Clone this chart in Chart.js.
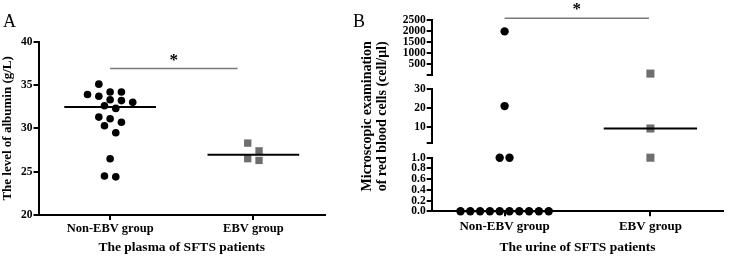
<!DOCTYPE html>
<html>
<head>
<meta charset="utf-8">
<script src="https://cdn.jsdelivr.net/npm/chart.js@4.4.1/dist/chart.umd.min.js"></script>
<style>
  body { margin: 0; background: #fff; width: 729px; height: 257px; position: relative; overflow: hidden; }
  .panel { position: absolute; top: 0; height: 257px; }
  .tag { position: absolute; top: 12px; font: 18px "Liberation Serif", "Times New Roman", serif; line-height: 18px; color: #000; }
</style>
</head>
<body>
<div class="panel" style="left:0;width:360px"><canvas id="chartA" width="360" height="257"></canvas></div>
<div class="panel" style="left:360px;width:369px"><canvas id="chartB" width="369" height="257"></canvas></div>
<div class="tag" style="left:3px">A</div>
<div class="tag" style="left:353px">B</div>
<script>
const groups = ['Non-EBV group', 'EBV group'];

// A - albumin in plasma (g/L)
const plasmaNonEbv = [35.1, 34.2, 34.2, 33.9, 33.7, 33.3, 33.2, 33.0, 32.6, 32.3, 31.3, 31.1, 30.7, 30.3, 29.5, 26.5, 24.5, 24.4];
const plasmaEbv = [28.3, 27.4, 26.5, 26.3];
const plasmaTicks = [20, 25, 30, 35, 40];

// B - red blood cells in urine (cell/μl), broken axis in 3 parts
const urineNonEbv = [1980, 21, 1, 1, 0, 0, 0, 0, 0, 0, 0, 0, 0, 0];
const urineEbv = [50, 9, 1];
const urineTicksHigh = [0, 500, 1000, 1500, 2000, 2500];
const urineTicksMid = [1, 10, 20, 30];
const urineTicksLow = [0, 0.2, 0.4, 0.6, 0.8, 1.0];

const serif = '"Liberation Serif", "Times New Roman", serif';
Chart.defaults.font.family = serif;
Chart.defaults.font.weight = 'bold';
Chart.defaults.color = '#000';

const dotColor = '#000';
const squareColor = '#6e6e6e';

function median(arr) {
  const s = arr.slice().sort((a, b) => a - b);
  const m = Math.floor(s.length / 2);
  return s.length % 2 ? s[m] : (s[m - 1] + s[m]) / 2;
}

function medianLine(groupIdx, value, axis) {
  const c = groupIdx + 0.5;
  return {
    type: 'line', yAxisID: axis, data: [{x: c - 0.32, y: value}, {x: c + 0.32, y: value}],
    borderColor: '#000', borderWidth: 2, pointRadius: 0, clip: false
  };
}

// spread points of one group sideways, row by row (scatter dot plot)
function spreadGroup(chart, dsIndexes, center, step, rowPx) {
  const xs = chart.scales.x;
  const unit = xs.getPixelForValue(1) - xs.getPixelForValue(0);
  const pts = [];
  dsIndexes.forEach(di => {
    const ds = chart.data.datasets[di];
    const ys = chart.scales[ds.yAxisID || 'y'];
    ds.data.forEach(p => pts.push({p: p, py: ys.getPixelForValue(p.y)}));
  });
  pts.sort((a, b) => a.py - b.py);
  let row = [];
  const flush = () => {
    row.forEach((q, i) => { q.p.x = center + (i - (row.length - 1) / 2) * step / unit; });
    row = [];
  };
  pts.forEach(q => {
    if (row.length && q.py - row[0].py >= rowPx) flush();
    row.push(q);
  });
  flush();
}

const sigBar = {
  id: 'sigBar',
  afterDatasetsDraw(chart, args, opts) {
    const ctx = chart.ctx;
    const xs = chart.scales.x;
    const x0 = xs.getPixelForValue(opts.from);
    const x1 = xs.getPixelForValue(opts.to);
    const y = chart.scales[opts.axis].getPixelForValue(opts.level);
    ctx.save();
    ctx.strokeStyle = '#7a7a7a';
    ctx.lineWidth = 1.5;
    ctx.beginPath();
    ctx.moveTo(x0, y);
    ctx.lineTo(x1, y);
    ctx.stroke();
    ctx.fillStyle = '#000';
    ctx.font = 'bold 17px ' + serif;
    ctx.textAlign = 'center';
    ctx.textBaseline = 'alphabetic';
    ctx.fillText('*', (x0 + x1) / 2, y - 3.8);
    ctx.restore();
  }
};

const axisLines = {
  grid: {display: true, drawOnChartArea: false, drawTicks: true, tickLength: 5, lineWidth: 2, color: '#000'},
  border: {display: true, color: '#000', width: 2}
};

function groupAxis(height, labelPad, labelSize, title, titleSize, titlePad) {
  return Object.assign({
    type: 'linear', min: 0, max: 2,
    afterBuildTicks: s => { s.ticks = [{value: 0.5}, {value: 1.5}]; },
    ticks: {callback: (v, i) => groups[i], padding: labelPad, font: {size: labelSize}, maxRotation: 0, autoSkip: false},
    title: {display: true, text: title, font: {size: titleSize}, padding: {top: 0, bottom: titlePad}},
    afterFit: s => { s.height = height; }
  }, axisLines);
}

// ---------- A ----------
const chartA = new Chart(document.getElementById('chartA'), {
  type: 'scatter',
  data: {
    datasets: [
      medianLine(0, median(plasmaNonEbv), 'y'),
      medianLine(1, median(plasmaEbv), 'y'),
      {data: plasmaNonEbv.map(v => ({x: 0.5, y: v})), pointStyle: 'circle', pointRadius: 3.8,
        backgroundColor: dotColor, borderWidth: 0, clip: false},
      {data: plasmaEbv.map(v => ({x: 1.5, y: v})), pointStyle: 'rect', pointRadius: 5.2,
        backgroundColor: squareColor, borderWidth: 0, clip: false}
    ]
  },
  options: {
    responsive: false,
    animation: false,
    layout: {padding: {top: 41.7, right: 35, left: 0, bottom: 0}},
    plugins: {
      legend: {display: false},
      tooltip: {enabled: false},
      sigBar: {from: 0.5, to: 1.39, level: 36.9, axis: 'y'}
    },
    scales: {
      x: groupAxis(42, 1.5, 12.5, 'The plasma of SFTS patients', 13.5, 1),
      y: Object.assign({
        min: 20, max: 40,
        afterBuildTicks: s => { s.ticks = plasmaTicks.map(v => ({value: v})); },
        ticks: {padding: 1, font: {size: 11.5}, autoSkip: false},
        title: {display: true, text: 'The level of albumin (g/L)', font: {size: 13}, padding: {top: 0, bottom: 0}},
        afterFit: s => { s.width = 38.5; }
      }, axisLines)
    }
  },
  plugins: [sigBar]
});
spreadGroup(chartA, [2], 0.5, 11.3, 8.5);
spreadGroup(chartA, [3], 1.5, 11.3, 8.5);
chartA.update('none');

// ---------- B ----------
function segmentOf(v) { return v > 30 ? 'yHigh' : v > 1 ? 'yMid' : 'yLow'; }

function urineSets(values, center, style) {
  return ['yLow', 'yMid', 'yHigh'].map(id => Object.assign({
    yAxisID: id, clip: false, borderWidth: 0,
    data: values.filter(v => segmentOf(v) === id).map(v => ({x: center, y: v}))
  }, style));
}

function segAxis(weight, min, max, ticks, fmt, extra) {
  return Object.assign({
    type: 'linear', position: 'left', stack: 'urine', stackWeight: weight, min: min, max: max,
    afterBuildTicks: s => { s.ticks = ticks.map(v => ({value: v})); },
    ticks: {padding: 1, font: {size: 11.5}, callback: fmt, autoSkip: false},
    afterFit: s => { s.width = 71.7; }
  }, axisLines, extra || {});
}

function gapAxis(weight) {
  return {
    type: 'linear', position: 'left', stack: 'urine', stackWeight: weight, min: 0, max: 1,
    ticks: {display: false}, grid: {display: false}, border: {display: false},
    afterFit: s => { s.width = 71.7; }
  };
}

const urineDatasets = [].concat(
  urineSets(urineNonEbv, 0.5, {pointStyle: 'circle', pointRadius: 4.2, backgroundColor: dotColor}),
  urineSets(urineEbv, 1.5, {pointStyle: 'rect', pointRadius: 5.7, backgroundColor: squareColor})
);

const chartB = new Chart(document.getElementById('chartB'), {
  type: 'scatter',
  data: {
    datasets: [
      medianLine(0, median(urineNonEbv), segmentOf(median(urineNonEbv))),
      medianLine(1, median(urineEbv), segmentOf(median(urineEbv)))
    ].concat(urineDatasets)
  },
  options: {
    responsive: false,
    animation: false,
    layout: {padding: {top: 20, right: 2.3, left: 0, bottom: 0}},
    plugins: {
      legend: {display: false},
      tooltip: {enabled: false},
      sigBar: {from: 0.5, to: 1.49, level: 2580, axis: 'yHigh'}
    },
    scales: {
      x: groupAxis(45.7, 3, 13, 'The urine of SFTS patients', 13.5, 1.2),
      yLow: segAxis(53.6, 0, 1, urineTicksLow, v => v.toFixed(1)),
      gapLow: gapAxis(14.3),
      yMid: segAxis(54.1, 1, 30, urineTicksMid, v => (v === 1 ? '' : v), {
        title: {display: true, text: ['Microscopic examination', 'of red blood cells (cell/μl)'],
          font: {size: 14, lineHeight: 1.07}, padding: {top: 0, bottom: 0}}
      }),
      gapHigh: gapAxis(14.6),
      yHigh: segAxis(54.7, 0, 2500, urineTicksHigh, v => (v === 0 ? '' : v))
    }
  },
  plugins: [sigBar]
});
spreadGroup(chartB, [2, 3, 4], 0.5, 9.8, 8);
spreadGroup(chartB, [5, 6, 7], 1.5, 9.8, 8);
chartB.update('none');
</script>
</body>
</html>
